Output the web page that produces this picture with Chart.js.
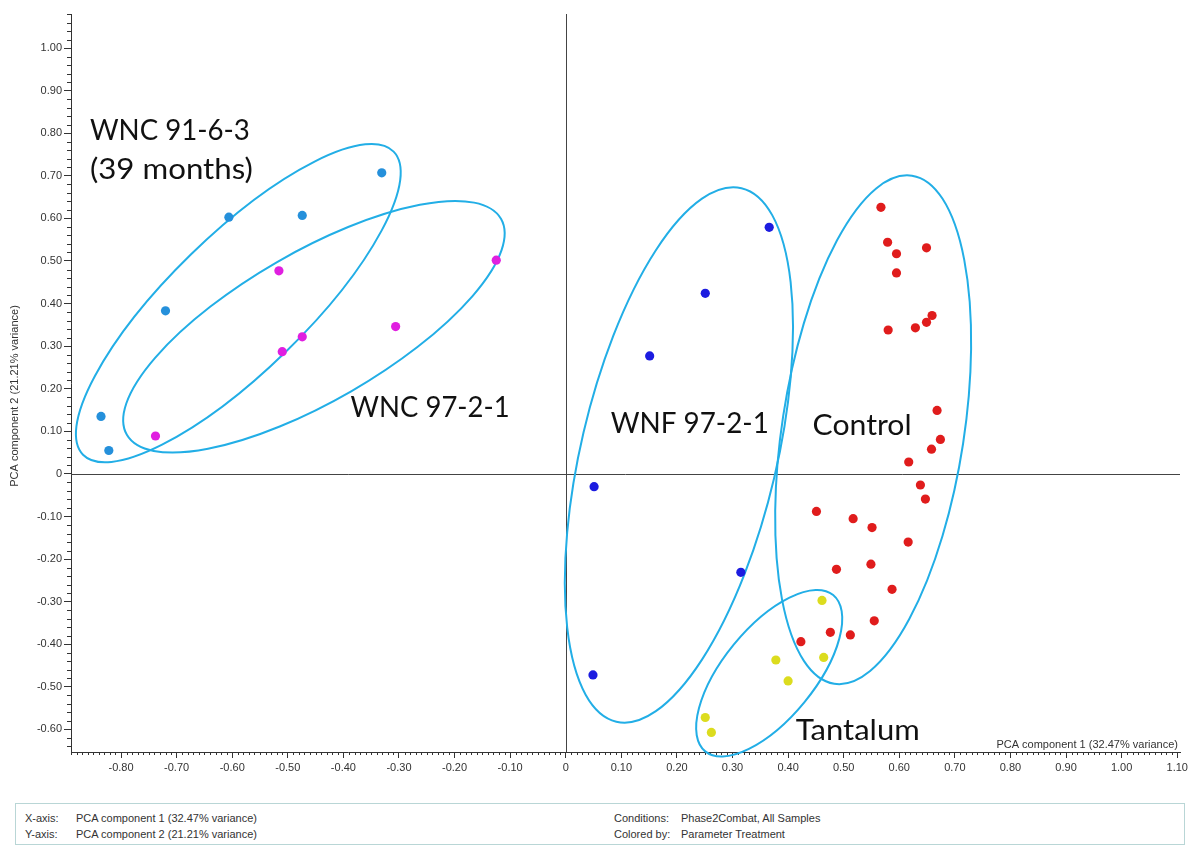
<!DOCTYPE html>
<html>
<head>
<meta charset="utf-8">
<script src="https://cdn.jsdelivr.net/npm/chart.js@4.4.1/dist/chart.umd.min.js"></script>
<style>
html,body{margin:0;padding:0;background:#fff;}
#wrap{position:relative;width:1195px;height:846px;overflow:hidden;background:#fff;}
#c{position:absolute;left:0;top:0;}
#info{position:absolute;left:15px;top:803px;width:1170px;height:42px;border:1px solid #b9d6d6;font:11px "Liberation Sans",Arial,sans-serif;color:#333;box-sizing:border-box;}
.t{position:absolute;white-space:nowrap;line-height:13px;}
</style>
</head>
<body>
<div id="wrap">
  <canvas id="c" width="1195" height="790"></canvas>
  <div id="info">
    <span class="t" style="left:9px;top:8px;">X-axis:</span>
    <span class="t" style="left:60px;top:8px;">PCA component 1 (32.47% variance)</span>
    <span class="t" style="left:9px;top:24px;">Y-axis:</span>
    <span class="t" style="left:60px;top:24px;">PCA component 2 (21.21% variance)</span>
    <span class="t" style="left:598px;top:8px;">Conditions:</span>
    <span class="t" style="left:665px;top:8px;">Phase2Combat, All Samples</span>
    <span class="t" style="left:598px;top:24px;">Colored by:</span>
    <span class="t" style="left:665px;top:24px;">Parameter Treatment</span>
  </div>
</div>
<script>
// ---------- data ----------
const xTickValues = [-0.8,-0.7,-0.6,-0.5,-0.4,-0.3,-0.2,-0.1,0,0.1,0.2,0.3,0.4,0.5,0.6,0.7,0.8,0.9,1.0,1.1];
const yTickValues = [-0.6,-0.5,-0.4,-0.3,-0.2,-0.1,0,0.1,0.2,0.3,0.4,0.5,0.6,0.7,0.8,0.9,1.0];

const wnc9163X = [-0.331,-0.606,-0.474,-0.720,-0.836,-0.822];
const wnc9163Y = [ 0.707, 0.603, 0.607, 0.383, 0.135, 0.055];

const wnc9721X = [-0.516,-0.125,-0.306,-0.474,-0.510,-0.738];
const wnc9721Y = [ 0.477, 0.502, 0.346, 0.322, 0.287, 0.089];

const wnf9721X = [0.366,0.251,0.151,0.051,0.315,0.049];
const wnf9721Y = [0.579,0.424,0.277,-0.030,-0.231,-0.472];

const controlX = [0.567,0.579,0.595,0.649,0.595,0.659,0.649,0.629,0.580,
                  0.668,0.674,0.658,0.617,0.638,0.647,
                  0.451,0.517,0.551,0.616,0.487,0.549,0.587,0.555,0.476,0.512,0.423];
const controlY = [0.626,0.544,0.517,0.531,0.472,0.372,0.356,0.343,0.338,
                  0.149,0.081,0.058,0.028,-0.026,-0.059,
                  -0.088,-0.105,-0.126,-0.160,-0.224,-0.212,-0.271,-0.345,-0.372,-0.378,-0.394];

const tantalumX = [0.461,0.378,0.464,0.400,0.251,0.262];
const tantalumY = [-0.297,-0.437,-0.431,-0.486,-0.572,-0.607];

// ---------- annotations ----------
const groupEllipses = [
  {cx:-0.589, cy:0.401,  rx:217, ry:68, deg:-44.3},
  {cx:-0.453, cy:0.3455, rx:216, ry:74.5, deg:-30},
  {cx:0.2036, cy:0.0446, rx:274, ry:98, deg:-76.8},
  {cx:0.553,  cy:0.1038, rx:257, ry:91, deg:-81.3},
  {cx:0.366,  cy:-0.468, rx:101, ry:45.6, deg:-50.7}
];
const groupLabels = [
  {text:'WNC 91-6-3',  x:-0.856, y:0.784,   w:160},
  {text:'(39 months)', x:-0.856, y:0.6925,  w:163},
  {text:'WNC 97-2-1',  x:-0.387, y:0.134,   w:159},
  {text:'WNF 97-2-1',  x:0.081,  y:0.096,   w:158},
  {text:'Control',     x:0.444,  y:0.0915,  w:99},
  {text:'Tantalum',    x:0.4137, y:-0.6244, w:124}
];

const toPts = (xs, ys) => xs.map((x, i) => ({x, y: ys[i]}));
const mk = (label, xs, ys, color) => ({
  label, data: toPts(xs, ys), backgroundColor: color, borderColor: color,
  pointRadius: 4.6, pointHoverRadius: 4.6, borderWidth: 0, showLine: false
});

const AXIS_FONT = {family: '"Liberation Sans", Arial, sans-serif', size: 11};
const fmt = v => (Math.abs(v) < 1e-9 ? '0' : v.toFixed(2));

const decor = {
  id: 'decor',
  beforeDatasetsDraw(chart) {
    const {ctx, chartArea: a, scales: {x, y}} = chart;
    ctx.save();
    // zero lines
    ctx.strokeStyle = '#444';
    ctx.lineWidth = 1;
    const x0 = Math.round(x.getPixelForValue(0)) + 0.5;
    const y0 = Math.round(y.getPixelForValue(0)) + 0.5;
    ctx.beginPath();
    ctx.moveTo(x0, a.top); ctx.lineTo(x0, a.bottom);
    ctx.moveTo(a.left, y0); ctx.lineTo(a.right, y0);
    ctx.stroke();
    // minor ticks
    ctx.strokeStyle = '#333';
    ctx.beginPath();
    for (let i = -89; i <= 110; i++) {
      if (i % 10 === 0) continue;
      const px = Math.round(x.getPixelForValue(i / 100)) + 0.5;
      ctx.moveTo(px, a.bottom); ctx.lineTo(px, a.bottom + 3);
    }
    for (let i = -64; i <= 108; i += 2) {
      if (i % 10 === 0) continue;
      const py = Math.round(y.getPixelForValue(i / 100)) + 0.5;
      ctx.moveTo(a.left - 4, py); ctx.lineTo(a.left, py);
    }
    ctx.stroke();
    // ellipses
    ctx.strokeStyle = '#22aee6';
    ctx.lineWidth = 2;
    groupEllipses.forEach(e => {
      ctx.beginPath();
      ctx.ellipse(x.getPixelForValue(e.cx), y.getPixelForValue(e.cy), e.rx, e.ry, e.deg * Math.PI / 180, 0, Math.PI * 2);
      ctx.stroke();
    });
    // y axis title
    ctx.font = '11px "Liberation Sans", Arial, sans-serif';
    ctx.fillStyle = '#333';
    ctx.textAlign = 'center';
    ctx.textBaseline = 'middle';
    ctx.translate(15, 396);
    ctx.rotate(-Math.PI / 2);
    ctx.fillText('PCA component 2 (21.21% variance)', 0, 0);
    ctx.restore();
  },
  afterDatasetsDraw(chart) {
    const {ctx, chartArea: a, scales: {x, y}} = chart;
    ctx.save();
    ctx.fillStyle = '#111';
    ctx.font = '28px Lato, "Open Sans", sans-serif';
    ctx.textAlign = 'left';
    ctx.textBaseline = 'alphabetic';
    groupLabels.forEach(l => {
      const px = x.getPixelForValue(l.x), py = y.getPixelForValue(l.y);
      const nat = ctx.measureText(l.text).width;
      const k = l.w / nat;
      ctx.save();
      ctx.translate(px, py);
      ctx.scale(k, 1);
      ctx.fillText(l.text, 0, 0);
      ctx.restore();
    });
    ctx.font = '11px "Liberation Sans", Arial, sans-serif';
    ctx.fillStyle = '#333';
    ctx.textAlign = 'right';
    ctx.fillText('PCA component 1 (32.47% variance)', a.right - 2, a.bottom - 4);
    ctx.restore();
  }
};

new Chart(document.getElementById('c'), {
  type: 'scatter',
  data: {
    datasets: [
      mk('WNC 91-6-3', wnc9163X, wnc9163Y, '#2590db'),
      mk('WNC 97-2-1', wnc9721X, wnc9721Y, '#e01fe0'),
      mk('WNF 97-2-1', wnf9721X, wnf9721Y, '#1c1ce0'),
      mk('Control', controlX, controlY, '#e01c1c'),
      mk('Tantalum', tantalumX, tantalumY, '#dcdc1e')
    ]
  },
  options: {
    responsive: false,
    devicePixelRatio: 1,
    animation: false,
    events: [],
    layout: {padding: {top: 14, right: 15, left: 0, bottom: 0}},
    plugins: {legend: {display: false}, tooltip: {enabled: false}},
    scales: {
      x: {
        type: 'linear', position: 'bottom', min: -0.89, max: 1.105,
        afterBuildTicks: s => { s.ticks = xTickValues.map(v => ({value: v})); },
        afterFit: s => { s.height = 38; },
        ticks: {callback: v => fmt(v), font: AXIS_FONT, color: '#333', padding: 3, maxRotation: 0, autoSkip: false},
        grid: {display: true, drawOnChartArea: false, drawTicks: true, tickLength: 6, color: '#333'},
        border: {display: true, color: '#333', width: 1}
      },
      y: {
        type: 'linear', position: 'left', min: -0.653, max: 1.08,
        afterBuildTicks: s => { s.ticks = yTickValues.map(v => ({value: v})); },
        afterFit: s => { s.width = 71; },
        ticks: {callback: v => fmt(v), font: AXIS_FONT, color: '#333', padding: 2, autoSkip: false},
        grid: {display: true, drawOnChartArea: false, drawTicks: true, tickLength: 7, color: '#333'},
        border: {display: true, color: '#333', width: 1}
      }
    }
  },
  plugins: [decor]
});
</script>
</body>
</html>
